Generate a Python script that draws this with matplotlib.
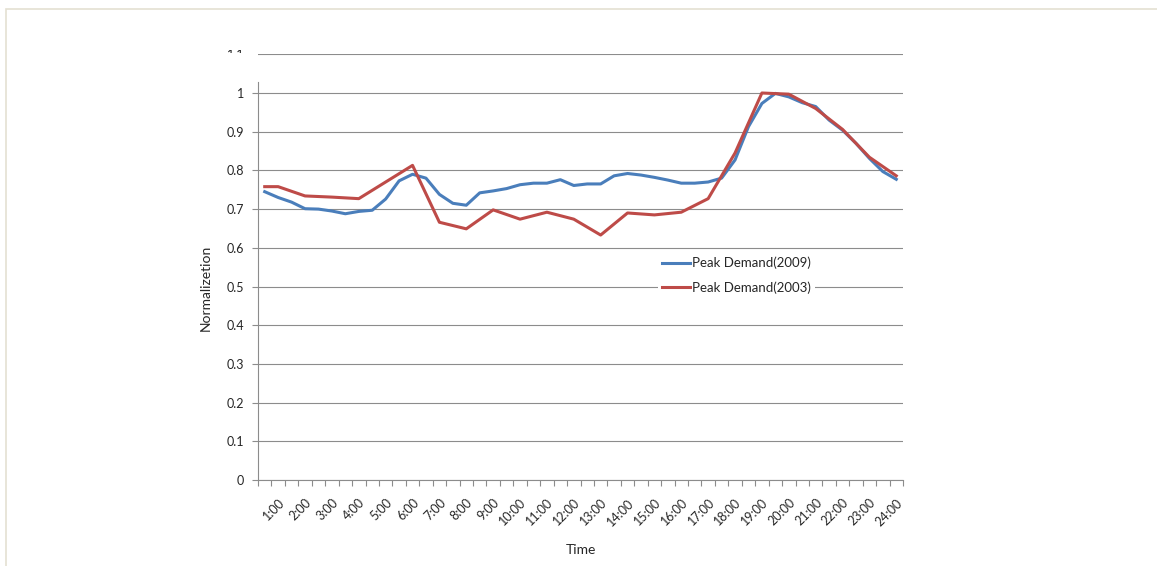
import numpy as np
import matplotlib
matplotlib.use("Agg")
import matplotlib.pyplot as plt
from matplotlib.patches import Rectangle

plt.rcParams["font.family"] = ["Lato", "DejaVu Sans"]

# ── data: half-hourly slots 0:30 .. 24:00 ───────────────────────────────────
slots = [f"{h}:{m:02d}" for h in range(0, 25) for m in (0, 30)][1:49]
tick_labels = slots[1::2]          # 1:00, 2:00, ... 24:00

peak_2009 = [0.745, 0.730, 0.718, 0.701, 0.700, 0.695, 0.688, 0.694,
             0.697, 0.726, 0.773, 0.790, 0.780, 0.738, 0.715, 0.710,
             0.742, 0.747, 0.753, 0.763, 0.767, 0.767, 0.776, 0.761,
             0.765, 0.765, 0.786, 0.792, 0.788, 0.782, 0.775, 0.767,
             0.767, 0.770, 0.780, 0.827, 0.913, 0.973, 0.999, 0.990,
             0.975, 0.965, 0.930, 0.904, 0.870, 0.831, 0.797, 0.777]

# 2003 series only has hourly readings (plus the first half hour)
nan = np.nan
peak_2003 = [0.758, 0.758, nan, 0.734, nan, 0.731, nan, 0.727,
             nan, 0.770, nan, 0.813, nan, 0.666, nan, 0.649,
             nan, 0.698, nan, 0.674, nan, 0.692, nan, 0.674,
             nan, 0.633, nan, 0.690, nan, 0.685, nan, 0.692,
             nan, 0.727, nan, 0.845, nan, 1.000, nan, 0.997,
             nan, 0.960, nan, 0.906, nan, 0.834, nan, 0.786]

yticks = [0, 0.1, 0.2, 0.3, 0.4, 0.5, 0.6, 0.7, 0.8, 0.9, 1, 1.1]

BLUE = "#4A7EBB"
RED = "#BE4B48"
GRID = "#8C8C8C"
TXT = "#262626"

W, H = 1157, 566
fig = plt.figure(figsize=(W / 100, H / 100), dpi=100, facecolor="white")
ax = fig.add_axes([258 / W, 1 - 480 / H, (903 - 258) / W, (480 - 54.3) / H])

x = np.arange(len(slots))
y03 = np.array(peak_2003)
ok = ~np.isnan(y03)

ax.plot(x, peak_2009, color=BLUE, lw=2.2, label="Peak Demand(2009)",
        solid_joinstyle="round", zorder=3)
ax.plot(x[ok], y03[ok], color=RED, lw=2.2, label="Peak Demand(2003)",
        solid_joinstyle="round", zorder=4)

ax.set_xlim(-0.5, len(slots) - 0.5)
ax.set_ylim(0, 1.1)

# y axis
ax.set_yticks(yticks)
ax.set_yticklabels([f"{v:g}" for v in yticks], fontsize=9, color=TXT)
ax.yaxis.grid(True, color=GRID, lw=0.8)
ax.tick_params(axis="y", length=4, width=0.8, color=GRID, pad=6)
ax.yaxis.get_major_ticks()[-1].tick1line.set_visible(False)

# x axis: labels on the hour, tick marks between slots
ax.set_xticks(x[1::2])
ax.set_xticklabels(tick_labels, fontsize=9, color=TXT, rotation=45,
                   ha="right", va="top", rotation_mode="anchor")
ax.set_xticks(np.arange(-0.5, len(slots)), minor=True)
ax.tick_params(axis="x", which="major", length=0, pad=12)
ax.tick_params(axis="x", which="minor", length=4, width=0.8, color=GRID)

for s in ["top", "right"]:
    ax.spines[s].set_visible(False)
for s in ["left", "bottom"]:
    ax.spines[s].set_color(GRID)
    ax.spines[s].set_linewidth(0.8)
ax.spines["left"].set_bounds(0, 1.028)

ax.set_xlabel("Time", fontsize=10, color=TXT, labelpad=11.5)
ax.set_ylabel("Normalizetion", fontsize=10, color=TXT)
ax.yaxis.set_label_coords(-0.071, 0.451)

leg = ax.legend(loc="upper left", bbox_to_anchor=(0.61, 0.549),
                fontsize=9.5, frameon=True, framealpha=1, facecolor="white",
                edgecolor="none", handlelength=2.1, handletextpad=0.2,
                labelspacing=0.9, borderpad=0.3, fancybox=False)
for t in leg.get_texts():
    t.set_color(TXT)

# the top label is cut off by the chart area edge
fig.patches.append(Rectangle((200 / W, 1 - 49.5 / H), 56 / W, 40 / H,
                             transform=fig.transFigure, facecolor="white",
                             edgecolor="none", zorder=10))
fig.patches.append(Rectangle((200 / W, 1 - 60 / H), 56 / W, 7 / H,
                             transform=fig.transFigure, facecolor="white",
                             edgecolor="none", zorder=10))

# light frame round the chart
fig.patches.append(Rectangle((6 / W, -0.01), 1.1, 1 - 9 / H + 0.01,
                             transform=fig.transFigure, facecolor="none",
                             edgecolor="#E4E0D2", lw=1.2, zorder=11))

fig.savefig("out.png", dpi=100, facecolor="white")
